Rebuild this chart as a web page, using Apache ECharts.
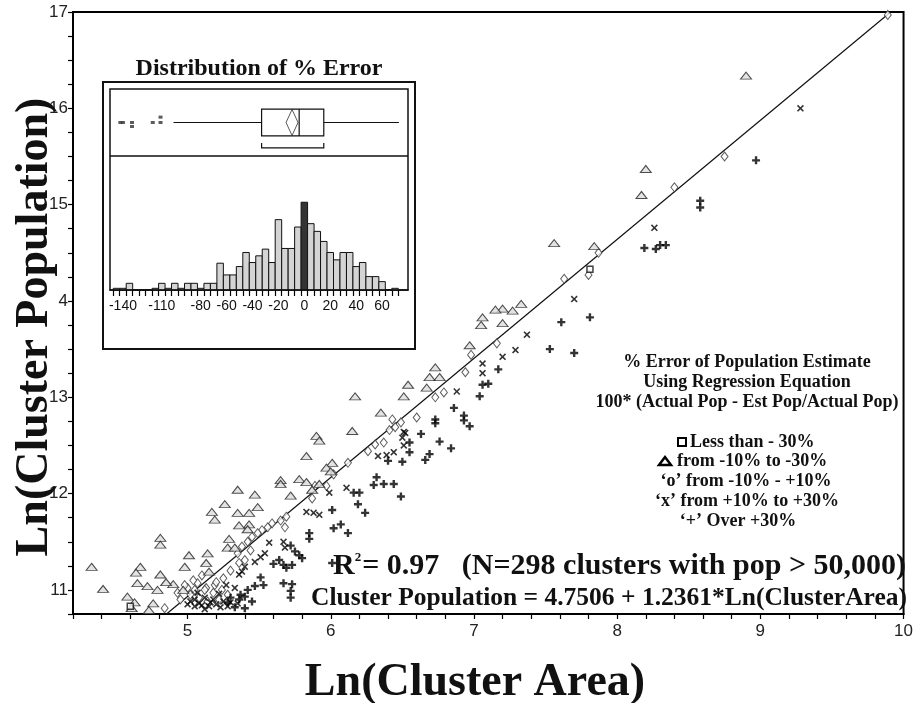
<!DOCTYPE html>
<html>
<head>
<meta charset="utf-8">
<script src="https://cdn.jsdelivr.net/npm/echarts@6.0.0/dist/echarts.min.js"></script>
<style>
html,body{margin:0;padding:0;background:#fff;}
#main{width:916px;height:703px;}
</style>
</head>
<body>
<div id="main"></div>
<script>
var serif = '"Liberation Serif", "Times New Roman", serif';
var narrow = '"Liberation Sans Narrow", "Liberation Sans", Arial, sans-serif';

// [Ln(area), Ln(pop)] per % error class
var ptsSquare = [[7.81,14.33],[4.60,10.83]];
var ptsTri = [
  [8.90,16.34],[8.20,15.37],[8.17,15.10],[7.56,14.60],[7.84,14.57],
  [7.33,13.97],[7.27,13.90],[7.20,13.92],[7.15,13.91],[7.06,13.83],[7.05,13.75],[7.20,13.77],[6.97,13.54],
  [6.73,13.31],[6.69,13.21],[6.76,13.21],[6.54,13.13],[6.67,13.10],[6.51,13.01],[6.17,13.01],[6.35,12.84],
  [6.15,12.65],[5.90,12.60],[5.92,12.55],[5.83,12.39],[6.01,12.32],[5.97,12.27],[6.00,12.23],[5.65,12.14],
  [5.65,12.10],[5.78,12.15],[5.83,12.12],[5.92,12.10],[5.72,11.98],[5.87,12.04],[5.35,12.04],[5.47,11.99],
  [5.49,11.86],[5.35,11.80],[5.43,11.80],[5.43,11.68],[5.36,11.67],[5.42,11.63],[5.26,11.89],[5.17,11.81],
  [5.19,11.73],[4.81,11.54],[4.81,11.47],[5.29,11.53],[5.28,11.44],[5.33,11.44],[5.01,11.36],[5.14,11.38],
  [4.33,11.24],[4.67,11.24],[4.64,11.18],[4.98,11.24],[5.13,11.28],[4.81,11.16],[4.65,11.07],[4.72,11.04],
  [4.41,11.01],[4.79,11.00],[4.90,11.06],[4.85,11.08],[4.97,11.00],[4.58,10.93],[4.63,10.87],[4.61,10.81],
  [4.76,10.86],[4.73,10.79],[5.15,11.19]
];
var ptsO = [
  [9.89,16.97],[8.75,15.50],[8.40,15.18],[7.87,14.50],[7.80,14.27],[7.63,14.23],[7.16,13.56],[6.98,13.44],
  [6.94,13.26],[6.79,13.05],[6.73,13.00],[6.60,12.79],[6.49,12.74],[6.43,12.77],[6.45,12.69],[6.41,12.66],
  [6.37,12.53],[6.31,12.51],[6.26,12.44],[6.12,12.32],[6.02,12.20],[5.97,12.08],[5.89,12.08],[5.87,11.95],
  [5.69,11.76],[5.65,11.72],[5.59,11.69],[5.56,11.65],[5.52,11.62],[5.49,11.59],[5.45,11.55],[5.42,11.50],
  [5.38,11.45],[5.35,11.38],[5.40,11.31],[5.36,11.28],[5.68,11.65],[5.44,11.41],[4.84,10.81],[5.07,11.07],
  [5.19,11.05],[5.13,11.02],[5.02,10.95],[5.08,10.92],[5.14,10.88],[5.22,10.90],[5.28,10.95],[5.00,11.02],
  [5.04,11.10],[4.98,11.05],[5.10,11.15],[5.30,11.20],[5.25,11.12],[4.95,10.90],[5.05,11.00],[5.18,10.97],
  [5.24,11.00],[5.12,11.00],[4.93,10.97],[5.20,11.08]
];
var ptsX = [
  [9.28,16.00],[8.26,14.76],[7.70,14.02],[7.37,13.65],[7.29,13.49],[7.20,13.42],[7.06,13.35],[7.06,13.25],
  [6.88,13.06],[6.51,12.64],[6.51,12.50],[6.52,12.63],[6.33,12.39],[6.39,12.40],[6.50,12.58],[6.44,12.43],
  [6.11,12.06],[5.99,12.01],[5.83,11.81],[5.88,11.80],[5.92,11.78],[5.67,11.50],[5.57,11.49],[5.54,11.38],
  [5.51,11.34],[5.47,11.29],[5.40,11.24],[5.38,11.19],[5.36,11.16],[5.68,11.44],[5.00,10.85],[5.05,10.83],
  [5.10,10.84],[5.15,10.83],[5.20,10.85],[5.25,10.88],[5.30,10.87],[5.05,10.90],[5.12,10.92],[5.18,10.90],
  [5.22,10.96],[5.33,11.02],[5.27,11.05],[5.02,10.88],[5.08,10.86],[5.16,10.87],[5.23,10.82],[5.28,10.83],
  [5.12,10.80],[5.35,10.86],[5.07,10.97]
];
var ptsPlus = [
  [8.97,15.46],[8.58,15.04],[8.58,14.97],[8.19,14.55],[8.27,14.54],[8.30,14.58],[8.34,14.58],[7.81,13.83],
  [7.61,13.78],[7.53,13.50],[7.70,13.46],[7.17,13.29],[7.06,13.13],[7.10,13.14],[7.04,13.01],[6.86,12.89],
  [6.93,12.81],[6.93,12.76],[6.97,12.70],[6.73,12.77],[6.73,12.73],[6.76,12.54],[6.84,12.47],[6.69,12.41],
  [6.66,12.35],[6.63,12.62],[6.55,12.53],[6.55,12.43],[6.50,12.33],[6.49,11.97],[6.40,12.34],[6.32,12.17],
  [6.30,12.09],[6.37,12.10],[6.44,12.10],[6.16,12.01],[6.20,12.01],[6.19,11.89],[6.24,11.80],[6.01,11.83],
  [6.02,11.64],[6.07,11.68],[6.12,11.59],[5.85,11.59],[5.85,11.53],[5.72,11.46],[5.75,11.40],[5.78,11.36],
  [5.80,11.33],[5.64,11.31],[5.60,11.27],[5.67,11.26],[5.73,11.26],[5.69,11.23],[5.51,11.13],[5.53,11.05],
  [5.47,11.04],[5.67,11.07],[5.73,11.06],[5.72,10.99],[5.72,10.92],[5.40,10.93],[5.40,10.81],[6.01,11.28],
  [5.36,10.90],[5.28,10.87],[5.37,10.95],[5.33,10.82],[5.45,10.88],[5.42,11.00],[5.30,10.92]
];
// regression line ends: Cluster Population = 4.7506 + 1.2361*Ln(ClusterArea)
var fitLine = [[4.853,10.75],[9.91,17.0]];

// inset: distribution of % error
var histBins = [-145,-140,-135,-130,-125,-120,-115,-110,-105,-100,-95,-90,-85,-80,-75,-70,-65,-60,-55,-50,-45,-40,
  -35,-30,-25,-20,-15,-10,-5,0,5,10,15,20,25,30,35,40,45,50,55,60,65,70];
var histCounts = [0.25,0.25,1,0,0,0,0.25,1,0.25,1,0.25,1,1,0.25,1,1,4,2.25,2.25,3.5,5.6,4.1,
  5.1,6.1,4.1,10.5,6.2,6.2,9.4,13.1,9.9,8.75,7.25,5.6,4.5,5.6,5.6,3.5,4.1,2,2,1.25,0,0.25];
var histLabels = [-140,-110,-80,-60,-40,-20,0,20,40,60];
var boxStats = [-101,-33,-4,15,73];
var boxMean = -9.5;
var shortHalf = [-33,15];
var outliers = [[-142,0.5],[-140,0.5],[-133,0.5],[-133,0.44],[-117,0.5],[-111,0.5],[-111,0.58]];

var histEdges = histBins.map(function(c){ return c - 2.5; });
histEdges.push(histBins[histBins.length-1] + 2.5);

function renderBar(params, api){
  var c = api.value(0), n = api.value(1);
  var p0 = api.coord([c - 2.5, n]);
  var p1 = api.coord([c + 2.5, 0]);
  return {
    type: 'rect',
    shape: {x: p0[0], y: p0[1], width: p1[0]-p0[0], height: p1[1]-p0[1]},
    style: {fill: c === 0 ? '#333' : '#d4d4d4', stroke: '#111', lineWidth: 1}
  };
}

function renderBox(params, api){
  var y = 0.5;
  var lo = api.coord([api.value(0), y]), q1 = api.coord([api.value(1), y]),
      md = api.coord([api.value(2), y]), q3 = api.coord([api.value(3), y]),
      hi = api.coord([api.value(4), y]);
  var h = api.size([0, 0.2])[1];
  var st = {stroke: '#111', lineWidth: 1.2, fill: null};
  return {type: 'group', children: [
    {type: 'line', shape: {x1: lo[0], y1: lo[1], x2: q1[0], y2: q1[1]}, style: st},
    {type: 'line', shape: {x1: q3[0], y1: q3[1], x2: hi[0], y2: hi[1]}, style: st},
    {type: 'rect', shape: {x: q1[0], y: q1[1]-h, width: q3[0]-q1[0], height: 2*h}, style: {stroke: '#111', lineWidth: 1.2, fill: '#fff'}},
    {type: 'line', shape: {x1: md[0], y1: md[1]-h, x2: md[0], y2: md[1]+h}, style: st}
  ]};
}

function renderBracket(params, api){
  var a = api.coord([api.value(0), 0.12]), b = api.coord([api.value(1), 0.12]);
  return {
    type: 'polyline',
    shape: {points: [[a[0], a[1]-5], [a[0], a[1]], [b[0], b[1]], [b[0], b[1]-5]]},
    style: {stroke: '#111', lineWidth: 1.2, fill: null}
  };
}

function txt(x, y, s, size, align){
  return {type: 'text', x: x, y: y, z: 10, style: {
    text: s, font: 'bold ' + size + 'px ' + serif, fill: '#111',
    align: align || 'center', textAlign: align || 'center', verticalAlign: 'middle', textVerticalAlign: 'middle'}};
}

var chart = echarts.init(document.getElementById('main'));
var option = {
  animation: false,
  backgroundColor: '#fff',
  grid: [
    {left: 73, top: 12, width: 835, height: 602, show: true, borderColor: '#000', borderWidth: 2},
    {left: 110, top: 89, width: 298, height: 67},
    {left: 110, top: 156, width: 298, height: 134}
  ],
  xAxis: [
    {type: 'value', gridIndex: 0, min: 4.2, max: 10, interval: 0.2,
      axisLine: {lineStyle: {color: '#000', width: 2}},
      axisTick: {length: 5, lineStyle: {color: '#000', width: 1.2}},
      axisLabel: {customValues: [5,6,7,8,9,10], fontFamily: narrow, fontSize: 17, color: '#222', margin: 9},
      splitLine: {show: false}},
    {type: 'value', gridIndex: 1, min: -150, max: 80, show: false},
    {type: 'value', gridIndex: 2, min: -150, max: 80,
      axisLine: {lineStyle: {color: '#000', width: 1.5}},
      axisTick: {customValues: histEdges, length: 6, lineStyle: {color: '#000', width: 1.2}},
      axisLabel: {customValues: histLabels, fontFamily: narrow, fontSize: 14, color: '#111', margin: 9},
      splitLine: {show: false}}
  ],
  yAxis: [
    {type: 'value', gridIndex: 0, min: 10.75, max: 17, interval: 0.25,
      axisLine: {lineStyle: {color: '#000', width: 2}},
      axisTick: {length: 5, lineStyle: {color: '#000', width: 1.2}},
      axisLabel: {customValues: [11,12,13,14,15,16,17], fontFamily: narrow, fontSize: 17, color: '#222', margin: 5,
        formatter: function(v){ return v === 14 ? '4' : String(v); }},
      splitLine: {show: false}},
    {type: 'value', gridIndex: 1, min: 0, max: 1, show: false},
    {type: 'value', gridIndex: 2, min: 0, max: 20, show: false}
  ],
  series: [
    {type: 'line', data: fitLine, symbol: 'none', lineStyle: {color: '#111', width: 1.2}, z: 1},
    {type: 'scatter', name: 'o', data: ptsO, symbol: 'diamond', symbolSize: [7, 9],
      itemStyle: {color: '#fff', borderColor: '#333', borderWidth: 1}, z: 2},
    {type: 'scatter', name: 'tri', data: ptsTri, symbol: 'triangle', symbolSize: [11, 7],
      itemStyle: {color: '#dcdcdc', borderColor: '#222', borderWidth: 1}, z: 3},
    {type: 'scatter', name: 'sq', data: ptsSquare, symbol: 'rect', symbolSize: 6,
      itemStyle: {color: '#fff', borderColor: '#111', borderWidth: 1.5}, z: 3},
    {type: 'scatter', name: 'x', data: ptsX,
      symbol: 'path://M0,1.6L1.6,0L5,3.4L8.4,0L10,1.6L6.6,5L10,8.4L8.4,10L5,6.6L1.6,10L0,8.4L3.4,5Z',
      symbolSize: 7, itemStyle: {color: '#000'}, z: 4},
    {type: 'scatter', name: 'plus', data: ptsPlus, symbol: 'path://M3.5,0H6.5V3.5H10V6.5H6.5V10H3.5V6.5H0V3.5H3.5Z',
      symbolSize: 8, itemStyle: {color: '#000'}, z: 5},
    {type: 'custom', xAxisIndex: 2, yAxisIndex: 2, renderItem: renderBar, clip: false,
      data: histBins.map(function(c, i){ return [c, histCounts[i]]; }), z: 5},
    {type: 'custom', xAxisIndex: 1, yAxisIndex: 1, renderItem: renderBox, clip: false, data: [boxStats], z: 5},
    {type: 'custom', xAxisIndex: 1, yAxisIndex: 1, renderItem: renderBracket, clip: false, data: [shortHalf], z: 5},
    {type: 'scatter', xAxisIndex: 1, yAxisIndex: 1, data: [[boxMean, 0.5]], symbol: 'diamond', symbolSize: [12, 26],
      itemStyle: {color: 'rgba(255,255,255,0)', borderColor: '#222', borderWidth: 1}, z: 6},
    {type: 'scatter', xAxisIndex: 1, yAxisIndex: 1, data: outliers, symbol: 'rect', symbolSize: [4, 3],
      itemStyle: {color: '#333'}, z: 6}
  ],
  graphic: [
    {type: 'rect', shape: {x: 103, y: 82, width: 312, height: 267}, style: {fill: null, stroke: '#111', lineWidth: 2}, z: 8},
    {type: 'rect', shape: {x: 110, y: 89, width: 298, height: 201}, style: {fill: null, stroke: '#111', lineWidth: 1.5}, z: 8},
    {type: 'line', shape: {x1: 110, y1: 156, x2: 408, y2: 156}, style: {stroke: '#111', lineWidth: 1.5}, z: 8},
    txt(259, 69, 'Distribution of % Error', 24),
    {type: 'text', x: 35, y: 327, rotation: Math.PI / 2, z: 10, style: {
      text: 'Ln(Cluster Population)', font: 'bold 46px ' + serif, fill: '#111',
      align: 'center', textAlign: 'center', verticalAlign: 'middle', textVerticalAlign: 'middle'}},
    txt(475, 683, 'Ln(Cluster Area)', 46),
    txt(747, 362, '% Error of Population Estimate', 18),
    txt(747, 382, 'Using Regression Equation', 18),
    txt(747, 402, '100* (Actual Pop - Est Pop/Actual Pop)', 18),
    {type: 'rect', shape: {x: 678, y: 438, width: 8, height: 8}, style: {fill: '#fff', stroke: '#000', lineWidth: 2}, z: 10},
    txt(690, 442, 'Less than - 30%', 18, 'left'),
    {type: 'polygon', shape: {points: [[659, 465], [665, 457], [671, 465]]}, style: {fill: '#fff', stroke: '#000', lineWidth: 2.5}, z: 10},
    txt(677, 461, 'from -10% to -30%', 18, 'left'),
    txt(746, 481, '\u2018o\u2019 from -10% - +10%', 18),
    txt(747, 501, '\u2018x\u2019 from +10% to +30%', 18),
    txt(738, 521, '\u2018+\u2019 Over +30%', 18),
    {type: 'text', x: 906, y: 566, z: 10, style: {
      text: '{r|R}{s|2}{t|= 0.97   (N=298 clusters with pop > 50,000)}',
      align: 'right', textAlign: 'right', verticalAlign: 'middle', textVerticalAlign: 'middle',
      rich: {
        r: {font: 'bold 30px ' + serif, fill: '#111'},
        s: {font: 'bold 13px ' + serif, fill: '#111', verticalAlign: 'top', padding: [0, 1, 0, 0]},
        t: {font: 'bold 30px ' + serif, fill: '#111'}
      }}},
    txt(907, 598, 'Cluster Population = 4.7506 + 1.2361*Ln(ClusterArea)', 25.5, 'right')
  ]
};
chart.setOption(option);
</script>
</body>
</html>
